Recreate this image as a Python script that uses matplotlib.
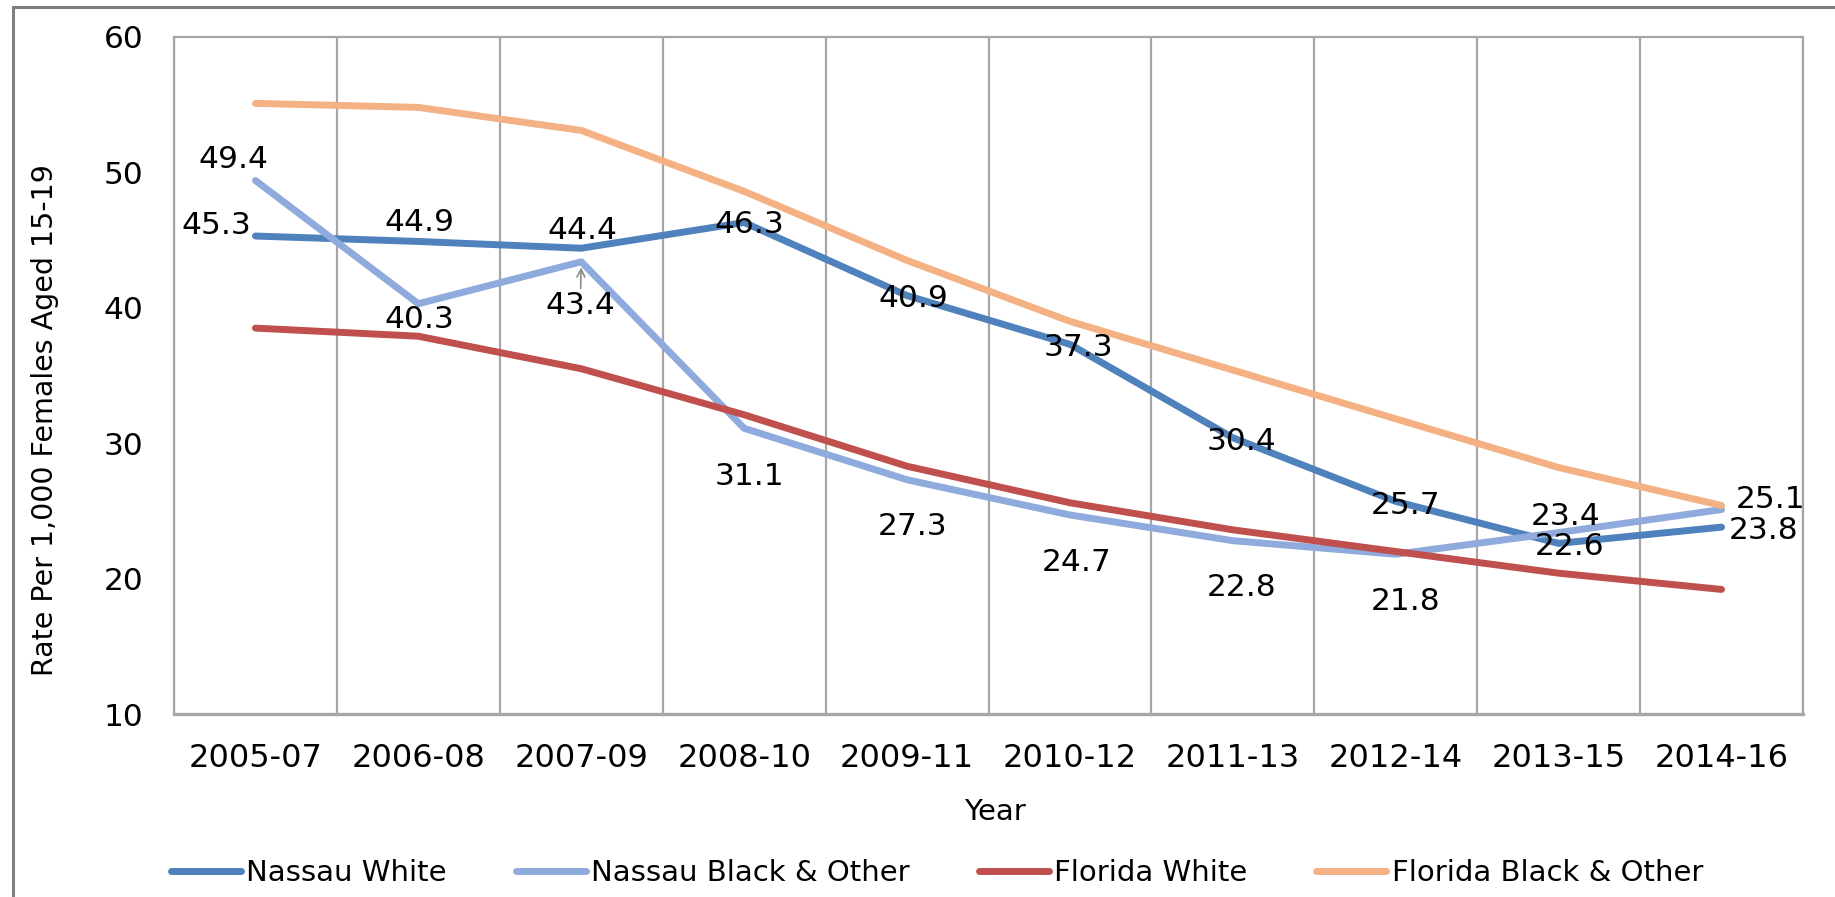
import numpy as np
import matplotlib.pyplot as plt
from matplotlib.patches import Rectangle

# data
years = ['2005-07', '2006-08', '2007-09', '2008-10', '2009-11',
         '2010-12', '2011-13', '2012-14', '2013-15', '2014-16']
nassau_white = [45.3, 44.9, 44.4, 46.3, 40.9, 37.3, 30.4, 25.7, 22.6, 23.8]
nassau_black = [49.4, 40.3, 43.4, 31.1, 27.3, 24.7, 22.8, 21.8, 23.4, 25.1]
florida_white = [38.5, 37.9, 35.5, 32.1, 28.3, 25.6, 23.6, 22.0, 20.4, 19.2]
florida_black = [55.1, 54.8, 53.1, 48.6, 43.5, 39.0, 35.4, 31.8, 28.2, 25.4]

# label offsets in pixels (dx right, dy down) from each point, layout only
nw_off = [(-39, -14), (1, -22), (1, -21), (5, -1), (6, 0),
          (8, 0), (9, 1), (10, 1), (11, 0), (42, 0)]
nb_off = [(-22, -24), (1, 13), (-1, 41), (5, 45), (6, 44),
          (7, 45), (9, 44), (10, 44), (7, -19), (49, -13)]

W, H = 1835, 897
fig = plt.figure(figsize=(W / 100, H / 100), dpi=100)
ax = fig.add_axes([174 / W, 1 - 714 / H, (1803 - 174) / W, (714 - 37) / H])

x = np.arange(len(years))
grid_col = '#A6A6A6'

ax.plot(x, nassau_white, color='#4F81BD', lw=5, solid_capstyle='round', solid_joinstyle='round', label='Nassau White', zorder=3)
ax.plot(x, nassau_black, color='#8FAADC', lw=5, solid_capstyle='round', solid_joinstyle='round', label='Nassau Black & Other', zorder=4)
ax.plot(x, florida_white, color='#C0504D', lw=5, solid_capstyle='round', solid_joinstyle='round', label='Florida White', zorder=5)
ax.plot(x, florida_black, color='#F4B183', lw=5, solid_capstyle='round', solid_joinstyle='round', label='Florida Black & Other', zorder=6)

ax.set_xlim(-0.5, len(years) - 0.5)
ax.set_ylim(10, 60)
ax.set_yticks([10, 20, 30, 40, 50, 60])
ax.set_xticks(x, years)
ax.set_xticks(np.arange(-0.5, len(years), 0.5), minor=True)
ax.grid(which='minor', axis='x', color=grid_col, lw=1.6)
ax.grid(which='major', visible=False)
ax.set_axisbelow(True)
ax.tick_params(axis='both', which='both', length=0)
ax.tick_params(axis='x', labelsize=23, pad=21)
ax.tick_params(axis='y', labelsize=22.5, pad=22)
for s in ax.spines.values():
    s.set_color(grid_col)
    s.set_linewidth(1.6)
ax.spines['bottom'].set_linewidth(2.4)


def px_to_pt(dx, dy):
    # baseline sits ~11.5 px below the digits' visual centre
    return (dx * 0.72, -(dy + 11.5) * 0.72)


for i, v in enumerate(nassau_white):
    ax.annotate(f'{v:.1f}', (x[i], v), xytext=px_to_pt(*nw_off[i]), textcoords='offset points',
                ha='center', va='baseline', fontsize=22.5, zorder=10)
for i, v in enumerate(nassau_black):
    arrow = None
    if i == 2:
        arrow = dict(arrowstyle='->', color='#8C8C8C', lw=1.2, shrinkA=0, shrinkB=4, mutation_scale=14)
    ax.annotate(f'{v:.1f}', (x[i], v), xytext=px_to_pt(*nb_off[i]), textcoords='offset points',
                ha='center', va='baseline', fontsize=22.5, zorder=10, arrowprops=arrow)

# axis titles
fig.text(995 / W, 1 - 820 / H, 'Year', ha='center', va='baseline', fontsize=21)
fig.text(53 / W, 1 - 420 / H, 'Rate Per 1,000 Females Aged 15-19', rotation=90,
         rotation_mode='anchor', ha='center', va='baseline', fontsize=20.5)

# legend
fig.legend(loc='center', bbox_to_anchor=(937 / W, 1 - 873 / H), ncol=4, frameon=False,
           fontsize=21, handlelength=2.4, handletextpad=0.2, columnspacing=2.35)

# outer chart border (only top and left visible)
fig.add_artist(Rectangle((13 / W, -0.5), 2, 1 - 7 / H + 0.5, transform=fig.transFigure,
                         fill=False, edgecolor='#7F7F7F', lw=2.2, clip_on=False))

fig.savefig('out.png', dpi=100)
